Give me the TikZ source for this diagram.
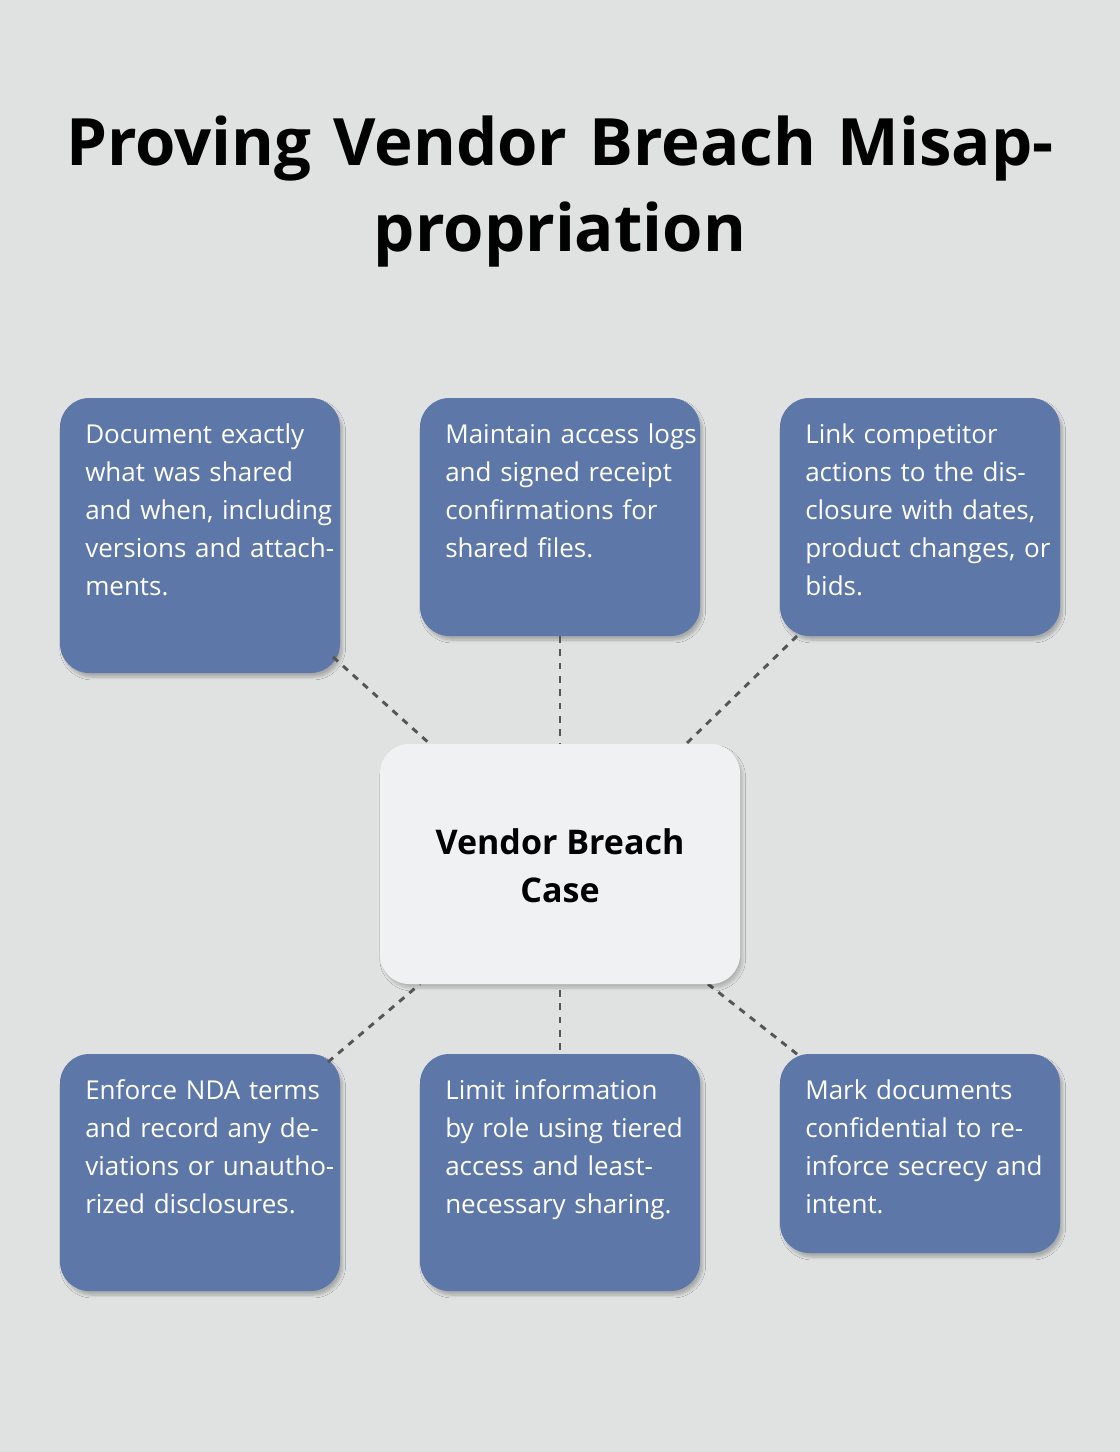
\documentclass[tikz,border=0pt]{standalone}
\usepackage{fontspec}
\setmainfont{Open Sans}
\usetikzlibrary{shadows.blur}
\definecolor{bg}{HTML}{E0E2E1}
\definecolor{boxc}{HTML}{5D77A8}
\definecolor{cen}{HTML}{F0F1F3}
\definecolor{lnc}{HTML}{555555}
\begin{document}
\begin{tikzpicture}[x=0.75pt,y=-0.75pt,
  box/.style={draw=none,fill=boxc,rounded corners=22pt,blur shadow={shadow blur steps=8,shadow xshift=2pt,shadow yshift=-3pt,shadow opacity=25}},
  txt/.style={anchor=north west,text width=190pt,align=left,text=white,font=\fontsize{19.5pt}{28.5pt}\selectfont,inner sep=0pt},
  conn/.style={draw=lnc,line width=2.2pt,dash pattern=on 5pt off 5pt}]
\fill[bg] (0,0) rectangle (1120,1452);
\useasboundingbox (0,0) rectangle (1120,1452);
\node[font=\fontsize{49pt}{64.5pt}\selectfont\bfseries,align=center,text width=800pt] (title) at (560,192) {Proving Vendor Breach Misap-\\propriation};
% boxes
\path[box] (60,398) rectangle (340,673); \node[inner sep=0pt] (b1) at (200,535) {};
\path[box] (420,398) rectangle (700,636); \node[inner sep=0pt] (b2) at (560,517) {};
\path[box] (780,398) rectangle (1060,636); \node[inner sep=0pt] (b3) at (920,517) {};
\path[box] (60,1054) rectangle (340,1291); \node[inner sep=0pt] (b4) at (200,1172) {};
\path[box] (420,1054) rectangle (700,1291); \node[inner sep=0pt] (b5) at (560,1172) {};
\path[box] (780,1054) rectangle (1060,1253); \node[inner sep=0pt] (b6) at (920,1153) {};
% connectors
\coordinate (c1a) at (333,657); \coordinate (c1b) at (430,744);
\coordinate (c2a) at (560,636); \coordinate (c2b) at (560,744);
\coordinate (c3a) at (797,636); \coordinate (c3b) at (686,744);
\coordinate (c4a) at (328,1062); \coordinate (c4b) at (420,984);
\coordinate (c5a) at (560,990); \coordinate (c5b) at (560,1054);
\coordinate (c6a) at (708,984); \coordinate (c6b) at (802,1058);
\draw[conn] (c1a) -- (c1b); \draw[conn] (c2a) -- (c2b); \draw[conn] (c3a) -- (c3b);
\draw[conn] (c4a) -- (c4b); \draw[conn] (c5a) -- (c5b); \draw[conn] (c6a) -- (c6b);
% center
\path[draw=none,fill=cen,rounded corners=22pt,blur shadow={shadow blur steps=8,shadow xshift=2pt,shadow yshift=-3pt,shadow opacity=20}] (380,744) rectangle (740,984);
\node[font=\fontsize{25.5pt}{36pt}\selectfont\bfseries,align=center] (c) at (560,866) {Vendor Breach\\Case};
% texts
\node[txt] (t1) at (85,423) {Document exactly what was shared and when, including versions and attachments.};
\node[txt] (t2) at (445,423) {Maintain access logs and signed receipt confirmations for shared files.};
\node[txt] (t3) at (805,423) {Link competitor actions to the disclosure with dates, product changes, or bids.};
\node[txt] (t4) at (85,1079) {Enforce NDA terms and record any deviations or unauthorized disclosures.};
\node[txt] (t5) at (445,1079) {Limit information by role using tiered access and least-necessary sharing.};
\node[txt] (t6) at (805,1079) {Mark documents confidential to reinforce secrecy and intent.};
\end{tikzpicture}
\end{document}
